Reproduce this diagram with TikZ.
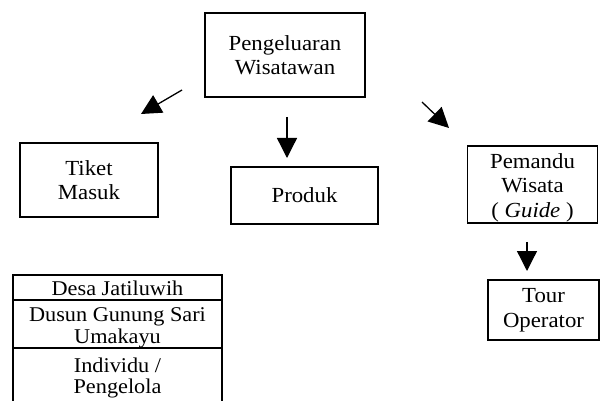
\documentclass[tikz,border=0pt]{standalone}
\usepackage{fontspec}
\setmainfont{Liberation Serif}[FakeStretch=1.06]
\usetikzlibrary{arrows.meta}
\begin{document}
\begin{tikzpicture}[x=1pt,y=-1pt,
  box/.style={draw,line width=1.8pt,align=center,inner sep=0pt,font=\fontsize{21.5}{24.5}\selectfont},
  arr/.style={line width=1.3pt,-{Triangle[length=20pt,width=20pt]}},
  cell/.style={align=center,inner sep=0pt,font=\fontsize{21}{21.5}\selectfont},
  rule/.style={line width=1.6pt}]
\useasboundingbox (0,0) rectangle (603,401);
\node[box,minimum width=160pt,minimum height=84pt] (peng) at (285,55) {Pengeluaran\\Wisatawan};
\node[box,minimum width=138pt,minimum height=74pt] (tiket) at (89,180) {Tiket\\Masuk};
\node[box,minimum width=147pt,minimum height=57pt] (produk) at (304.5,195.5) {Produk};
\node[box,minimum width=130pt,minimum height=77pt] (pemandu) at (532.5,184.5) {\rule{0pt}{21pt}Pemandu\\Wisata\\( \textit{Guide} )};
\node[box,minimum width=111pt,minimum height=60pt] (tour) at (543.5,310) {Tour\\Operator};
% floating arrows
\coordinate (a1s) at (182,90); \coordinate (a1e) at (141,114);
\coordinate (a2s) at (287,117); \coordinate (a2e) at (287,158);
\coordinate (a3s) at (422,102); \coordinate (a3e) at (449,128);
\coordinate (a4s) at (527,242); \coordinate (a4e) at (527,271);
\draw[arr] (a1s) -- (a1e);
\draw[arr] (a2s) -- (a2e);
\draw[arr] (a3s) -- (a3e);
\draw[arr] (a4s) -- (a4e);
% table
\coordinate (t1) at (13,275); \coordinate (t2) at (222,275);
\coordinate (t3) at (13,401); \coordinate (t4) at (222,401);
\coordinate (h1l) at (13,300); \coordinate (h1r) at (222,300);
\coordinate (h2l) at (13,348); \coordinate (h2r) at (222,348);
\draw[rule] (t3) -- (t1) -- (t2) -- (t4);
\draw[rule] (h1l) -- (h1r);
\draw[rule] (h2l) -- (h2r);
\node[cell] (r1) at (117.5,288) {Desa Jatiluwih};
\node[cell] (r2) at (117.5,328) {Dusun Gunung Sari\\Umakayu};
\node[cell] (r3) at (117.5,378) {Individu /\\Pengelola};
\end{tikzpicture}
\end{document}
